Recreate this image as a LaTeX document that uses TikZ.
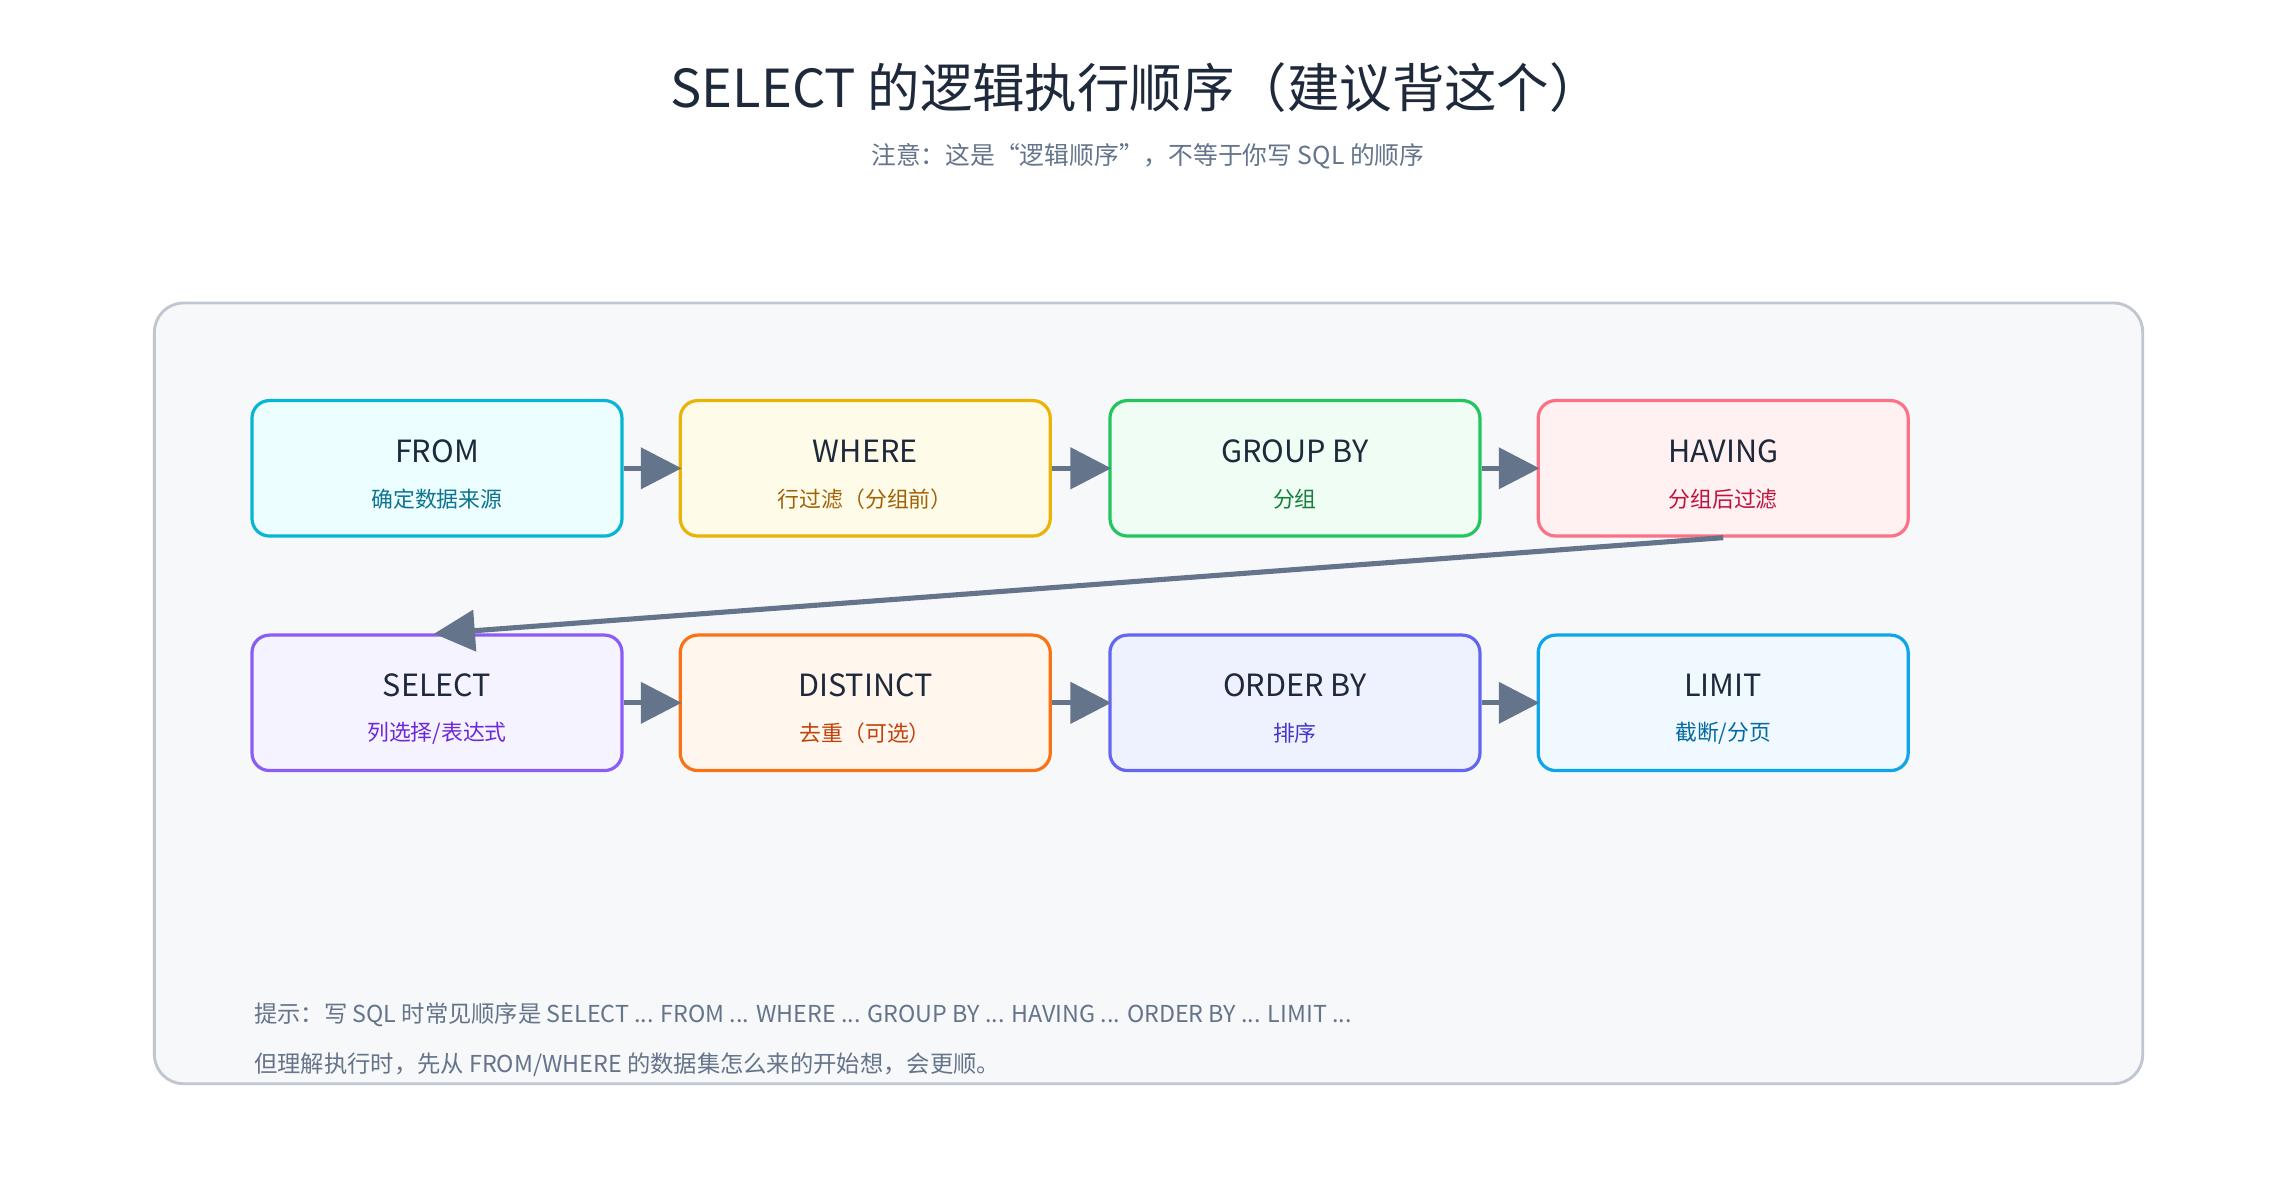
\documentclass[tikz,border=0pt]{standalone}
\usepackage{fontspec}
\setmainfont{Noto Sans CJK SC}
\usetikzlibrary{arrows.meta}
\definecolor{ttl}{HTML}{1E293B}
\definecolor{sub}{HTML}{64748B}
\tikzset{
 box/.style={draw=#1, line width=2.2pt, rounded corners=12pt, minimum width=254pt, minimum height=93pt, inner sep=0pt},
 conn/.style={draw=sub, line width=3.5pt, -{Triangle[length=28pt,width=28pt]}, shorten >=-2pt},
}
\newcommand{\stepbox}[8]{%
 \definecolor{bd#1}{HTML}{#5}\definecolor{fl#1}{HTML}{#6}\definecolor{tx#1}{HTML}{#7}%
 \node[box=bd#1, fill=fl#1] (#1) at (#2,#3) {};
 \node[font=\fontsize{21}{24}\selectfont, text=ttl] (#1t) at (#2,#3+12) {#4};
 \node[font=\fontsize{15}{18}\selectfont, text=tx#1] (#1s) at (#2,#3-21) {#8};
}
\begin{document}
\begin{tikzpicture}[x=1pt,y=1pt]
\useasboundingbox (0,0) rectangle (1568,-824);
\node[font=\fontsize{36}{40}\selectfont, text=ttl] (title) at (780,-60) {SELECT 的逻辑执行顺序（建议背这个）};
\node[font=\fontsize{17}{20}\selectfont, text=sub] (subt) at (788,-107) {注意：这是“逻辑顺序”，不等于你写 SQL 的顺序};
\node[draw=sub!40, line width=2pt, fill=sub!5, rounded corners=20pt, minimum width=1365pt, minimum height=536pt] (panel) at (788.5,-476) {};
\stepbox{from}{300}{-321.5}{FROM}{06B6D4}{ECFEFF}{0E7490}{确定数据来源}
\stepbox{where}{594}{-321.5}{WHERE}{EAB308}{FEFCE8}{A16207}{行过滤（分组前）}
\stepbox{group}{889}{-321.5}{GROUP BY}{22C55E}{F0FDF4}{15803D}{分组}
\stepbox{having}{1183}{-321.5}{HAVING}{FB7185}{FFF1F2}{BE123C}{分组后过滤}
\stepbox{select}{300}{-482.5}{SELECT}{8B5CF6}{F5F3FF}{6D28D9}{列选择/表达式}
\stepbox{distinct}{594}{-482.5}{DISTINCT}{F97316}{FFF7ED}{C2410C}{去重（可选）}
\stepbox{order}{889}{-482.5}{ORDER BY}{6366F1}{EEF2FF}{4338CA}{排序}
\stepbox{limit}{1183}{-482.5}{LIMIT}{0EA5E9}{F0F9FF}{0369A1}{截断/分页}
\draw[conn] (from) -- (where);
\draw[conn] (where) -- (group);
\draw[conn] (group) -- (having);
\draw[conn] (having.south) -- (select.north);
\draw[conn] (select) -- (distinct);
\draw[conn] (distinct) -- (order);
\draw[conn] (order) -- (limit);
\node[anchor=west, font=\fontsize{16}{19}\selectfont, text=sub] (h1) at (171,-697) {提示：写 SQL 时常见顺序是 SELECT ... FROM ... WHERE ... GROUP BY ... HAVING ... ORDER BY ... LIMIT ...};
\node[anchor=west, font=\fontsize{16}{19}\selectfont, text=sub] (h2) at (171,-731) {但理解执行时，先从 FROM/WHERE 的数据集怎么来的开始想，会更顺。};
\end{tikzpicture}
\end{document}
